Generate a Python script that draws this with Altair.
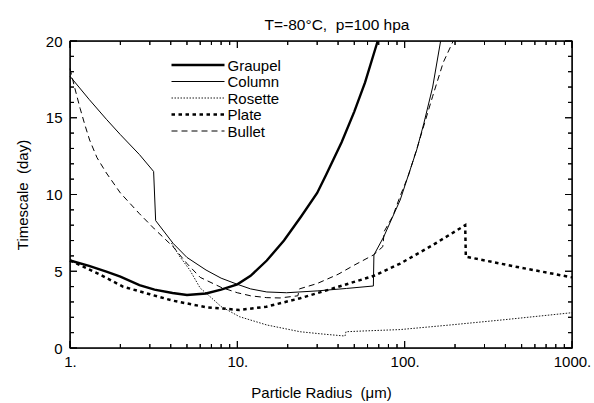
import altair as alt
import pandas as pd

series_names = ["Graupel", "Column", "Rosette", "Plate", "Bullet"]

graupel_r = [1.0, 1.3, 1.65, 2.0, 2.6, 3.2, 4.1, 5.0, 6.5, 8.0, 10.0, 12.0, 15.0, 19.0, 24.0, 30.0, 34.0, 42.0, 50.0, 58.0, 69.0]
graupel_t = [5.7, 5.35, 4.97, 4.65, 4.1, 3.8, 3.58, 3.45, 3.55, 3.8, 4.15, 4.7, 5.7, 7.0, 8.55, 10.1, 11.3, 13.4, 15.4, 17.3, 20.0]

column_r = [1.0, 1.3, 1.65, 2.0, 2.6, 3.16, 3.25, 4.13, 5.0, 6.5, 8.0, 10.0, 12.0, 15.0, 19.7, 30.0, 45.0, 65.0, 65.5, 75.0, 94.0, 118.0, 130.0, 147.0, 164.0]
column_t = [17.7, 16.2, 14.9, 13.9, 12.6, 11.5, 8.3, 6.82, 5.9, 5.08, 4.55, 4.15, 3.85, 3.65, 3.6, 3.72, 3.88, 4.04, 6.06, 7.25, 9.64, 12.9, 14.6, 17.0, 20.0]

rosette_r = [4.04, 4.5, 5.2, 6.0, 6.55, 8.0, 10.3, 15.0, 23.7, 33.0, 44.0, 44.6, 60.0, 94.0, 187.0, 400.0, 1000.0]
rosette_t = [6.84, 6.0, 5.08, 3.9, 3.55, 2.7, 2.04, 1.5, 1.06, 0.9, 0.78, 1.06, 1.12, 1.2, 1.5, 1.85, 2.3]

plate_r = [1.0, 1.5, 2.07, 3.0, 4.13, 6.55, 10.3, 14.9, 23.7, 37.5, 65.0, 94.0, 147.0, 230.0, 232.0, 460.0, 1000.0]
plate_t = [5.7, 4.8, 4.0, 3.5, 3.08, 2.65, 2.48, 2.69, 3.24, 3.89, 4.69, 5.5, 6.7, 8.0, 5.95, 5.3, 4.6]

bullet_r = [1.0, 1.07, 1.15, 1.23, 1.31, 1.45, 1.65, 2.0, 2.6, 3.2, 4.13, 5.0, 6.0, 8.0, 10.0, 12.0, 15.0, 18.0, 23.0, 23.5, 30.0, 40.0, 50.0, 65.0, 74.0, 75.5, 85.0, 94.0, 105.0, 120.0, 147.0, 170.0, 195.0]
bullet_t = [18.2, 16.9, 15.6, 14.5, 13.55, 12.4, 11.4, 10.1, 8.75, 7.75, 6.6, 5.5, 4.6, 3.95, 3.6, 3.4, 3.28, 3.26, 3.4, 3.85, 4.2, 4.8, 5.4, 6.06, 6.6, 7.6, 8.6, 9.9, 11.2, 13.2, 16.4, 18.6, 20.0]

x_major = [1, 10, 100, 1000]
x_minor = [m * d for d in (1, 10, 100) for m in range(2, 10)]
y_major = [0, 5, 10, 15, 20]
y_minor = [v for v in range(0, 21) if v % 5 != 0]

series_data = {"Graupel": (graupel_r, graupel_t), "Column": (column_r, column_t),
               "Rosette": (rosette_r, rosette_t), "Plate": (plate_r, plate_t),
               "Bullet": (bullet_r, bullet_t)}

W, H = 502, 307
X_LO, X_HI, Y_LO, Y_HI = 1, 1000, 0, 20
FONT = "Liberation Sans"
NB = "\u00a0"
xscale = alt.Scale(type="log", domain=[X_LO, X_HI], nice=False)
yscale = alt.Scale(domain=[Y_LO, Y_HI], nice=False)

styles = {
    "Graupel": {"strokeWidth": 2.4},
    "Column": {"strokeWidth": 1.0},
    "Rosette": {"strokeWidth": 0.9, "strokeDash": [1.5, 1.5]},
    "Plate": {"strokeWidth": 2.5, "strokeDash": [3.5, 3.5]},
    "Bullet": {"strokeWidth": 1.0, "strokeDash": [6, 4]},
}

x_axis = alt.Axis(
    values=x_major, labelExpr="datum.value + '.'", ticks=False, domain=False, grid=False,
    title="Particle Radius " + NB + "(μm)", labelFontSize=15, titleFontSize=15, labelFont=FONT,
    titleFont=FONT, titleFontWeight="normal", labelPadding=6, titlePadding=16,
    labelColor="black", titleColor="black", labelFlush=False)
y_axis = alt.Axis(
    values=y_major, ticks=False, domain=False, grid=False,
    title="Timescale " + NB + "(day)", labelFontSize=15, titleFontSize=15, labelFont=FONT,
    titleFont=FONT, titleFontWeight="normal", labelPadding=8, titlePadding=15,
    labelColor="black", titleColor="black", labelFlush=False)

# inward tick marks drawn as one "comb" path per frame side; pixel lengths are
# converted to data units through the scale extents
MAJOR_PX, MINOR_PX = 7, 4
decades = 3.0  # log10(X_HI / X_LO)
comb_rows = []
k = 0
x_ticks = sorted([(v, MAJOR_PX) for v in x_major] + [(v, MINOR_PX) for v in x_minor])
y_ticks = sorted([(v, MAJOR_PX) for v in y_major] + [(v, MINOR_PX) for v in y_minor])
for side, base, sign in (("bottom", Y_LO, 1), ("top", Y_HI, -1)):
    for v, px in x_ticks:
        tip = base + sign * px * (Y_HI - Y_LO) / H
        for tt in (base, tip, base):
            comb_rows.append({"side": side, "tr": v, "tt": tt, "k": k})
            k += 1
for side, base, sign in (("left", X_LO, 1), ("right", X_HI, -1)):
    for v, px in y_ticks:
        tip = base * 10 ** (sign * px * decades / W)
        for tr in (base, tip, base):
            comb_rows.append({"side": side, "tr": tr, "tt": v, "k": k})
            k += 1
comb_df = pd.DataFrame(comb_rows)

ticks = alt.Chart(comb_df).mark_line(color="black", strokeWidth=1, strokeJoin="bevel", strokeCap="butt").encode(
    x=alt.X("tr:Q", scale=xscale, axis=x_axis),
    y=alt.Y("tt:Q", scale=yscale, axis=y_axis),
    detail="side:N",
    order="k:Q",
)

series_layers = []
legend_layers = []
for i, name in enumerate(series_names):
    rs, ts = series_data[name]
    d = pd.DataFrame({"r": rs, "t": ts, "series": name})
    series_layers.append(
        alt.Chart(d).mark_line(color="black", strokeCap="butt", **styles[name]).encode(
            x=alt.X("r:Q", scale=xscale, axis=x_axis),
            y=alt.Y("t:Q", scale=yscale, axis=y_axis)))
    ld = pd.DataFrame({"series": [name]})
    row_y = 24 + 16.5 * i
    legend_layers.append(
        alt.Chart(ld).mark_rule(color="black", strokeCap="butt", **styles[name]).encode(
            x=alt.value(101.5), x2=alt.value(154.5), y=alt.value(row_y)))
    legend_layers.append(
        alt.Chart(ld).mark_text(align="left", baseline="middle", font=FONT, fontSize=15, color="black").encode(
            text="series:N", x=alt.value(157.5), y=alt.value(row_y + 0.5)))

layers = series_layers + legend_layers + [ticks]

chart = alt.layer(*layers).properties(
    width=W, height=H,
    title=alt.TitleParams("T=-80°C," + NB + " p=100 hpa", font=FONT, fontSize=15.5, fontWeight="normal",
                          anchor="middle", dx=16, offset=1, color="black"),
    autosize=alt.AutoSizeParams(type="none"),
    padding={"left": 70, "top": 41, "right": 22, "bottom": 55},
).configure_view(stroke="black", strokeWidth=1.3)

chart.save("out.html", embed_options={"renderer": "svg", "actions": False})
